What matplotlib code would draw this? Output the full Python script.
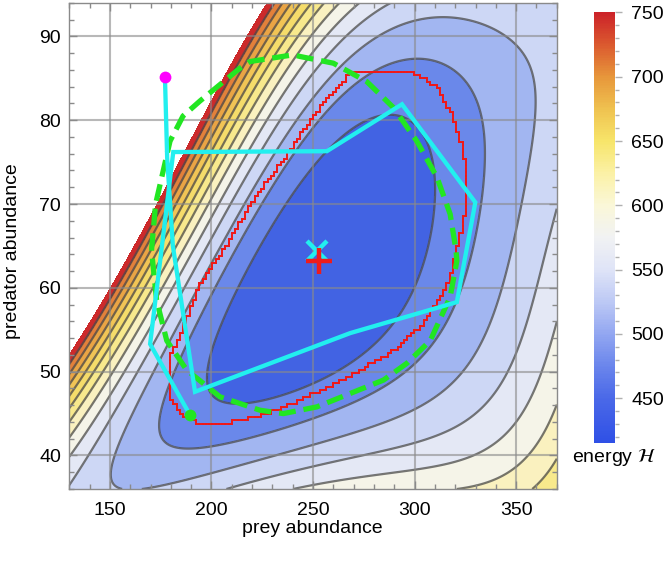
import numpy as np
import matplotlib
matplotlib.use("Agg")
import matplotlib.pyplot as plt
from matplotlib.colors import LinearSegmentedColormap, Normalize
from matplotlib.cm import ScalarMappable
from matplotlib.path import Path
from matplotlib.collections import LineCollection
from matplotlib.ticker import MultipleLocator

plt.rcParams['font.family'] = ['Liberation Sans', 'DejaVu Sans']
plt.rcParams['font.size'] = 14

# contour lines of the energy as (prey, predator) points;
# ring0 is the innermost line, ring12 the outer edge of the red band
ring0 = [(196.4, 50.6), (202.6, 56.5), (214.1, 61.3), (232.2, 68.4), (243.6, 74.0), (265.0, 79.3),
         (284.7, 80.9), (298.5, 78.5), (307.7, 73.9), (311.0, 70.0), (309.0, 64.4), (292.9, 56.5),
         (276.5, 51.0), (250.0, 49.2), (219.0, 48.2), (203.0, 48.9)]
ring1 = [(171.4, 46.2), (180.0, 43.8), (199.3, 41.8), (219.0, 42.8), (250.0, 44.6), (284.7, 47.4),
         (311.0, 55.7), (325.8, 64.4), (333.5, 74.3), (318.0, 84.3), (299.5, 88.4), (272.0, 86.0),
         (250.0, 79.5), (234.6, 74.0), (194.8, 56.5)]
ring2 = [(151.5, 40.7), (156.6, 38.3), (175.0, 37.2), (199.3, 37.1), (219.0, 39.1), (292.9, 45.8),
         (342.2, 59.7), (351.0, 70.0), (351.0, 74.0), (342.2, 88.2), (320.0, 93.0), (296.0, 94.6),
         (260.0, 85.5), (227.2, 74.0), (161.2, 47.0)]
ring3 = [(135.0, 36.2), (138.2, 39.9), (144.8, 45.0), (221.5, 74.0), (255.0, 86.0), (288.0, 94.2),
         (230.0, 36.2), (292.9, 41.0), (361.9, 59.7), (370.0, 63.5)]
ring4 = [(130.0, 41.2), (215.7, 74.0), (281.5, 94.2), (277.0, 36.2), (370.0, 54.1)]
ring5 = [(130.0, 43.0), (210.8, 74.0), (274.0, 94.2), (316.5, 36.2), (370.0, 46.0)]
ring6 = [(130.0, 44.4), (205.9, 74.0), (266.6, 94.2), (351.5, 36.2), (370.0, 39.9)]
ring7 = [(130.0, 45.8), (200.9, 74.0), (256.8, 94.2)]
ring8 = [(130.0, 47.0), (196.8, 74.0), (250.2, 94.2)]
ring9 = [(130.0, 48.0), (192.8, 74.0), (243.7, 94.2)]
ring10 = [(130.0, 49.0), (188.6, 74.0), (237.0, 94.2)]
ring11 = [(130.0, 50.1), (184.5, 74.0), (229.8, 94.2)]
ring12 = [(130.0, 51.2), (179.6, 74.0), (221.0, 94.2)]
rings = [ring0, ring1, ring2, ring3, ring4, ring5, ring6, ring7, ring8, ring9, ring10, ring11, ring12]
# a few readings of the level between lines (inside the inner ring, in the corners)
between = [(253.0, 63.5, -1.2), (225.0, 56.5, -0.55), (268.0, 72.0, -0.6), (282.0, 62.0, -0.6),
           (240.0, 68.0, -0.5), (265.0, 56.0, -0.6), (130.0, 36.2, 3.2), (370.0, 94.2, 2.6),
           (370.0, 78.0, 2.75)]

band_colors = ['#4263e3', '#6a88ea', '#a2b6f1', '#cdd7f5', '#e4e8f5', '#f5f4e8', '#faf1bf',
               '#f8e98c', '#f5dc6a', '#f1c455', '#eaa444', '#e3803a', '#cc2a2b']

# red stepped loop
red_x = [205.9, 220.6, 238.7, 243.6, 255.0, 268.2, 284.7, 300.3, 311.0, 319.2, 324.1, 325.8, 321.0,
         315.9, 304.4, 289.6, 268.3, 243.6, 227.2, 207.5, 194.4, 184.5, 179.6, 179.6, 186.2, 194.4]
red_y = [64.4, 70.4, 76.3, 78.3, 82.0, 85.6, 85.6, 85.6, 83.9, 80.3, 76.3, 70.4, 64.6,
         60.1, 55.7, 52.5, 49.4, 46.6, 45.0, 43.8, 43.8, 45.0, 47.0, 51.8, 55.3, 60.5]

# green dashed orbit
orbit_x = [170.5, 172.5, 179.6, 186.0, 194.4, 214.0, 219.0, 240.3, 243.6, 260.0, 276.5, 289.6, 301.1,
           311.0, 317.5, 320.4, 320.8, 317.5, 307.7, 296.2, 284.7, 268.3, 251.9, 235.4, 223.9, 204.2,
           187.8, 178.0, 173.0, 170.5]
orbit_y = [64.5, 70.0, 77.5, 80.5, 82.3, 86.2, 87.0, 87.8, 87.6, 86.8, 84.6, 81.5, 77.5,
           73.2, 68.8, 64.5, 63.2, 58.9, 53.7, 51.0, 49.0, 47.4, 45.8, 45.0, 45.4, 47.0,
           50.2, 53.7, 58.5, 64.5]

# cyan trajectory, start and end points
traj_x = [177.1, 178.2, 181.0, 191.9, 268.3, 320.8, 329.9, 293.8, 256.8, 181.2, 169.8, 189.5]
traj_y = [85.2, 75.5, 65.0, 47.6, 54.6, 58.3, 70.2, 81.9, 76.3, 76.2, 53.3, 44.8]
fixed_pt = (252.7, 63.2)
est_pt = (252.0, 64.4)

cbar_vals = [415, 450, 475, 500, 525, 550, 575, 600, 625, 650, 675, 700, 725, 750]
cbar_cols = ['#2f50e6', '#4b69e8', '#6b86ec', '#93a7f1', '#bdc9f5', '#dfe4f7', '#f1f2f3',
             '#faf7d8', '#fbf1a6', '#f7e56a', '#efc250', '#e7973b', '#db5a2f', '#cc2329']


def to_px(x, y):
    # data -> screen-like units, so that distances are isotropic on the plot
    return (np.asarray(x) - 253.0) * 2.03 / 100, (np.asarray(y) - 63.0) * 8.41 / 100


def basis(X, Y, deg=4):
    return np.column_stack([X ** i * Y ** j for i in range(deg + 1) for j in range(deg + 1 - i)])


# smooth surface through the readings: weighted least-squares quartic in screen units
sx, sy, sk, sw = [], [], [], []
for k, ring in enumerate(rings):
    for x, y in ring:
        sx.append(x)
        sy.append(y)
        sk.append(k)
        sw.append(2.5 if k <= 1 else 1.5 if k <= 3 else 1.0)
for x, y, k in between:
    sx.append(x)
    sy.append(y)
    sk.append(k)
    sw.append(1.0)
sw = np.array(sw)
B = basis(*to_px(sx, sy)) * sw[:, None]
coef = np.linalg.solve(B.T @ B + 1e-4 * np.eye(B.shape[1]), B.T @ (np.array(sk, float) * sw))

xs = np.linspace(130, 370, 481)
ys = np.linspace(36, 94, 481)
XX, YY = np.meshgrid(xs, ys)
F = (basis(*[c.ravel() for c in to_px(XX, YY)]) @ coef).reshape(XX.shape)

fig = plt.figure(figsize=(6.66, 5.66), dpi=100)
ax = fig.add_axes([0.104, 0.136, 0.732, 0.859])
ax.set_facecolor('white')

fill_levels = [min(F.min(), -1) - 1] + list(range(0, 13))
ax.contourf(XX, YY, F, levels=fill_levels, colors=band_colors, zorder=0)
ax.contour(XX, YY, F, levels=list(range(0, 12)), colors='#4a4a4a', linewidths=1.6, alpha=0.75, zorder=1)

for gx in [150, 200, 250, 300, 350]:
    ax.axvline(gx, color='#8a8a8a', lw=1.5, alpha=0.6, zorder=2)
for gy in [40, 50, 60, 70, 80, 90]:
    ax.axhline(gy, color='#8a8a8a', lw=1.5, alpha=0.6, zorder=2)

# stepped red loop: boundary of the cells whose centres fall inside the loop
cw, ch = 1.6, 0.4
loop = Path(np.column_stack([red_x, red_y]))
ex = np.arange(min(red_x) - 2 * cw, max(red_x) + 2 * cw, cw)
ey = np.arange(min(red_y) - 2 * ch, max(red_y) + 2 * ch, ch)
CX, CY = np.meshgrid((ex[:-1] + ex[1:]) / 2, (ey[:-1] + ey[1:]) / 2)
inside = loop.contains_points(np.column_stack([CX.ravel(), CY.ravel()])).reshape(CX.shape)
segs = []
for i, j in zip(*np.nonzero(inside[:, 1:] != inside[:, :-1])):
    segs.append([(ex[j + 1], ey[i]), (ex[j + 1], ey[i + 1])])
for i, j in zip(*np.nonzero(inside[1:, :] != inside[:-1, :])):
    segs.append([(ex[j], ey[i + 1]), (ex[j + 1], ey[i + 1])])
ax.add_collection(LineCollection(segs, colors='#f01818', linewidths=1.4, capstyle='projecting', zorder=3))

ax.plot(orbit_x, orbit_y, color='#22e622', lw=3.8, ls=(0, (3.2, 1.5)), dash_capstyle='butt', zorder=4)
ax.plot(traj_x, traj_y, color='#22efef', lw=3.1, solid_joinstyle='miter', zorder=5)
ax.plot(traj_x[0], traj_y[0], 'o', color='#ff00ff', ms=8.5, mew=0, zorder=6)
ax.plot(traj_x[-1], traj_y[-1], 'o', color='#22e622', ms=8.5, mew=0, zorder=6)
ax.plot(*est_pt, marker='x', color='#22efef', ms=15, mew=3.2, ls='none', zorder=6)
ax.plot(*fixed_pt, marker='+', color='#ee1c1c', ms=19, mew=3.2, ls='none', zorder=7)

ax.set_xlim(130, 370)
ax.set_ylim(36, 94)
ax.set_xticks([150, 200, 250, 300, 350])
ax.set_yticks([40, 50, 60, 70, 80, 90])
ax.xaxis.set_minor_locator(MultipleLocator(10))
ax.yaxis.set_minor_locator(MultipleLocator(2))
ax.tick_params(which='both', direction='in', top=True, right=True, color='#8a8a8a', width=1)
ax.tick_params(which='major', length=6)
ax.tick_params(which='minor', length=3.5)
ax.tick_params(axis='x', pad=9)
ax.tick_params(axis='y', pad=6)
for sp in ax.spines.values():
    sp.set_color('#8a8a8a')
    sp.set_linewidth(1)

fig.text(0.4695, 0.067, 'prey abundance', ha='center', va='center')
fig.text(0.019, 0.557, 'predator abundance', ha='center', va='center', rotation=90)

cmap = LinearSegmentedColormap.from_list(
    'temperature', [((v - 415) / 335, c) for v, c in zip(cbar_vals, cbar_cols)])
cax = fig.add_axes([0.892, 0.217, 0.031, 0.761])
cb = fig.colorbar(ScalarMappable(norm=Normalize(415, 750), cmap=cmap), cax=cax)
cb.set_ticks([450, 500, 550, 600, 650, 700, 750])
cb.outline.set_visible(False)
cax.yaxis.set_minor_locator(MultipleLocator(10))
cax.tick_params(which='both', color='#b0b0b0', width=1)
cax.tick_params(which='major', length=5, pad=7)
cax.tick_params(which='minor', length=3)
fig.text(0.921, 0.191, r'energy $\mathcal{H}$', ha='center', va='center')

fig.savefig('out.png', dpi=100)
